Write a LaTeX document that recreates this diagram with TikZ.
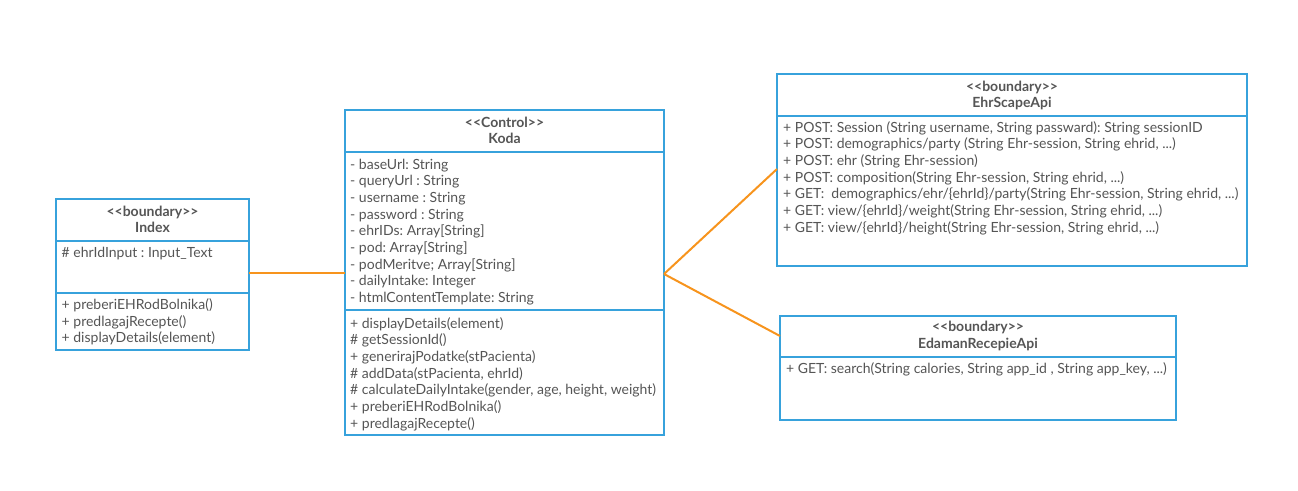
\documentclass[tikz,border=0pt]{standalone}
\usepackage{fontspec}
\setmainfont{Lato}
\frenchspacing
\definecolor{umlblue}{HTML}{37A2DC}
\definecolor{umlorange}{HTML}{F7941D}
\definecolor{umltext}{HTML}{555555}
\newcommand\mydots{...}
\tikzset{
  umlbox/.style={draw=umlblue, line width=2pt, inner sep=0pt, outer sep=0pt, anchor=north west, fill=white},
  divider/.style={draw=umlblue, line width=2pt},
  txt/.style={anchor=base west, inner sep=0pt, text=umltext, font=\fontsize{14}{16}\selectfont},
  head/.style={anchor=base, inner sep=0pt, text=umltext, font=\fontsize{14}{16}\selectfont\bfseries},
  conn/.style={draw=umlorange, line width=2pt}
}
\begin{document}
\begin{tikzpicture}[x=1pt,y=-1pt]
\useasboundingbox (0,0) rectangle (1298,490);
% boxes
\node[umlbox, minimum width=193pt, minimum height=151pt] (index) at (56,199) {};
\node[umlbox, minimum width=319pt, minimum height=325pt] (koda) at (345,110) {};
\node[umlbox, minimum width=470pt, minimum height=192pt] (ehr) at (777,74) {};
\node[umlbox, minimum width=396pt, minimum height=104pt] (eda) at (780,316) {};
% dividers
\draw[divider] ([yshift=-42pt]index.north west) -- ([yshift=-42pt]index.north east);
\draw[divider] ([yshift=-94pt]index.north west) -- ([yshift=-94pt]index.north east);
\draw[divider] ([yshift=-42pt]koda.north west) -- ([yshift=-42pt]koda.north east);
\draw[divider] ([yshift=-200pt]koda.north west) -- ([yshift=-200pt]koda.north east);
\draw[divider] ([yshift=-42pt]ehr.north west) -- ([yshift=-42pt]ehr.north east);
\draw[divider] ([yshift=-41pt]eda.north west) -- ([yshift=-41pt]eda.north east);
% connectors
\coordinate (junction) at ([yshift=-1.5pt]koda.east);
\draw[conn] (koda.west) -- (koda.west -| index.east);
\draw[conn] (junction) -- ([yshift=1pt]ehr.west);
\draw[conn] (junction) -- ([yshift=-20pt]eda.north west);
% Index
\node[head] (indexst) at (152.5,216) {{<}{<}boundary{>}{>}};
\node[head] (indexname) at (152.5,232.5) {Index};
\node[txt] (indexattr) at (61.5,257.5) {\# ehrIdInput : Input\_Text};
\foreach \t [count=\i from 0] in {{+ preberiEHRodBolnika()},{+ predlagajRecepte()},{+ displayDetails(element)}}
  \node[txt] (indexm\i) at (61.5,{309.8+16.5*\i}) {\t};
% Koda
\node[head] (kodast) at (504.5,127) {{<}{<}Control{>}{>}};
\node[head] (kodaname) at (504.5,143.3) {Koda};
\foreach \t [count=\i from 0] in {{- baseUrl: String},{- queryUrl : String},{- username : String},{- password : String},{- ehrIDs: Array[String]},{- pod: Array[String]},{- podMeritve; Array[String]},{- dailyIntake: Integer},{- htmlContentTemplate: String}}
  \node[txt] (kodaa\i) at (350,{169+16.7*\i}) {\t};
\foreach \t [count=\i from 0] in {{+ displayDetails(element)},{\# getSessionId()},{+ generirajPodatke(stPacienta)},{\# addData(stPacienta, ehrId)},{\# calculateDailyIntake(gender, age, height, weight)},{+ preberiEHRodBolnika()},{+ predlagajRecepte()}}
  \node[txt] (kodam\i) at (350,{328+16.7*\i}) {\t};
% EhrScapeApi
\node[head] (ehrst) at (1012,91) {{<}{<}boundary{>}{>}};
\node[head] (ehrname) at (1012,107.7) {EhrScapeApi};
\foreach \t [count=\i from 0] in {{+ POST: Session (String username, String passward): String sessionID},{+ POST: demographics/party (String Ehr-session, String ehrid, \mydots)},{+ POST: ehr (String Ehr-session)},{+ POST: composition(String Ehr-session, String ehrid, \mydots)},{+ GET:~~demographics/ehr/\{ehrId\}/party(String Ehr-session, String ehrid, \mydots)},{+ GET: view/\{ehrId\}/weight(String Ehr-session, String ehrid, \mydots)},{+ GET: view/\{ehrId\}/height(String Ehr-session, String ehrid, \mydots)}}
  \node[txt] (ehrm\i) at (783,{132+16.7*\i}) {\t};
% EdamanRecepieApi
\node[head] (edast) at (978,331.7) {{<}{<}boundary{>}{>}};
\node[head] (edaname) at (978,348.3) {EdamanRecepieApi};
\node[txt] (edam0) at (786,373.3) {+ GET: search(String calories, String app\_id , String app\_key, \mydots)};
\end{tikzpicture}
\end{document}
